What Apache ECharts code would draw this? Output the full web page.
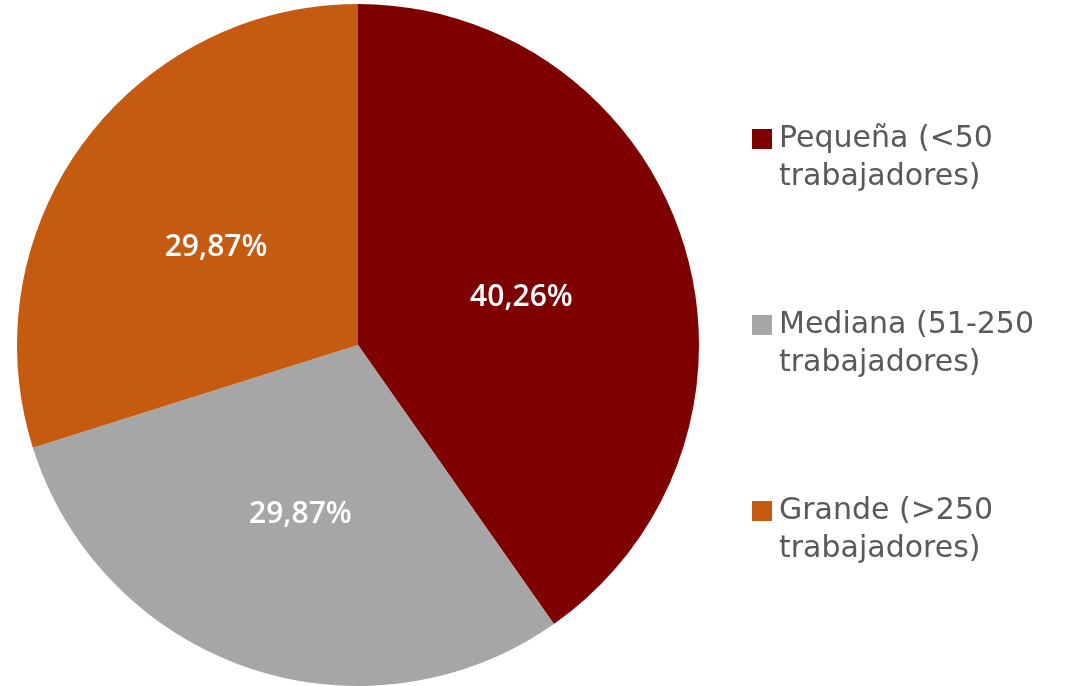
<!DOCTYPE html>
<html>
<head>
<meta charset="utf-8">
<script src="https://cdn.jsdelivr.net/npm/echarts@6/dist/echarts.min.js"></script>
<style>
  html, body { margin: 0; padding: 0; background: #fff; }
  #main { width: 1066px; height: 686px; }
</style>
</head>
<body>
<div id="main"></div>
<script>
// datos del gráfico
var categories = ['Pequeña (<50 trabajadores)', 'Mediana (51-250 trabajadores)', 'Grande (>250 trabajadores)'];
var legendLines = [['Pequeña (<50', 'trabajadores)'], ['Mediana (51-250', 'trabajadores)'], ['Grande (>250', 'trabajadores)']];
var values = [40.26, 29.87, 29.87];
var colors = ['#7F0000', '#A6A6A6', '#C55A11'];

var myChart = echarts.init(document.getElementById('main'));

// icono cuadrado alineado con la primera línea del texto
var iconPath = 'path://M0,0h20v20h-20z M0,57.99h0.01v0.01h-0.01z';

myChart.setOption({
    animation: false,
    color: colors,
    legend: {
        orient: 'vertical',
        left: 752,
        top: 120,
        padding: 0,
        itemGap: 110,
        itemWidth: 20,
        itemHeight: 58,
        icon: iconPath,
        data: categories,
        formatter: function (name) {
            return legendLines[categories.indexOf(name)].join('\n');
        },
        textStyle: {
            fontFamily: 'DejaVu Sans',
            fontSize: 30,
            lineHeight: 38,
            color: '#595959',
            padding: [0, 0, 0, 2]
        }
    },
    series: [{
        type: 'pie',
        center: [358, 345],
        radius: 341,
        startAngle: 90,
        clockwise: true,
        label: {
            position: 'inside',
            color: '#fff',
            fontFamily: 'Open Sans',
            fontWeight: 600,
            fontSize: 30,
            offset: [-2, 5],
            formatter: function (p) {
                return p.value.toFixed(2).replace('.', ',') + '%';
            }
        },
        labelLine: { show: false },
        emphasis: { disabled: true },
        data: categories.map(function (c, i) {
            return { name: c, value: values[i] };
        })
    }]
});
</script>
</body>
</html>
